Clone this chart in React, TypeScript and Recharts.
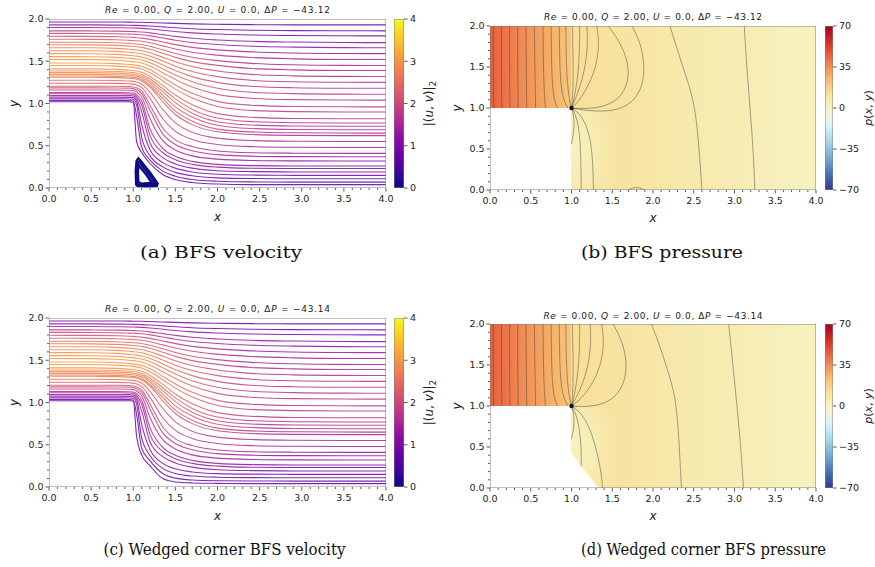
import React from 'react';
import { ComposedChart, Line, Area, Scatter, XAxis, YAxis } from 'recharts';

const stationX = [0, 0.5, 0.8, 0.95, 1.0, 1.04, 1.1, 1.2, 1.35, 1.5, 1.7, 2.0, 2.4, 2.9, 3.5, 4.0];

// streamline heights at stationX, bottom line first (plain BFS)
const streamBFS = [
  [1.02, 1.02, 1.02, 1.02, 1.015, 0.55, 0.42, 0.29, 0.16, 0.1, 0.065, 0.047, 0.04, 0.04, 0.04, 0.04],
  [1.035, 1.035, 1.035, 1.035, 1.03, 0.85, 0.48, 0.33, 0.2, 0.14, 0.1, 0.08, 0.072, 0.07, 0.07, 0.07],
  [1.055, 1.055, 1.055, 1.054, 1.05, 0.98, 0.6, 0.38, 0.25, 0.185, 0.145, 0.12, 0.112, 0.11, 0.11, 0.11],
  [1.075, 1.075, 1.075, 1.073, 1.07, 1.03, 0.75, 0.45, 0.3, 0.235, 0.19, 0.163, 0.153, 0.15, 0.15, 0.15],
  [1.095, 1.095, 1.095, 1.093, 1.09, 1.06, 0.9, 0.53, 0.36, 0.285, 0.235, 0.205, 0.194, 0.19, 0.19, 0.19],
  [1.115, 1.115, 1.115, 1.113, 1.11, 1.085, 0.98, 0.62, 0.42, 0.335, 0.28, 0.247, 0.234, 0.23, 0.23, 0.23],
  [1.13, 1.13, 1.13, 1.128, 1.125, 1.105, 1.03, 0.7, 0.47, 0.375, 0.315, 0.28, 0.265, 0.26, 0.26, 0.26],
  [1.16, 1.16, 1.16, 1.157, 1.153, 1.137, 1.08, 0.82, 0.56, 0.45, 0.38, 0.342, 0.326, 0.321, 0.32, 0.32],
  [1.185, 1.185, 1.184, 1.18, 1.176, 1.163, 1.12, 0.92, 0.64, 0.515, 0.44, 0.395, 0.377, 0.371, 0.37, 0.37],
  [1.205, 1.205, 1.204, 1.2, 1.196, 1.185, 1.15, 0.98, 0.71, 0.57, 0.49, 0.438, 0.418, 0.412, 0.41, 0.41],
  [1.24, 1.24, 1.238, 1.233, 1.229, 1.22, 1.19, 1.06, 0.82, 0.67, 0.575, 0.515, 0.49, 0.482, 0.48, 0.48],
  [1.275, 1.275, 1.272, 1.266, 1.262, 1.254, 1.23, 1.13, 0.93, 0.77, 0.66, 0.59, 0.562, 0.553, 0.55, 0.55],
  [1.31, 1.31, 1.306, 1.299, 1.295, 1.287, 1.266, 1.19, 1.02, 0.87, 0.75, 0.665, 0.633, 0.623, 0.62, 0.62],
  [1.325, 1.325, 1.321, 1.313, 1.309, 1.302, 1.282, 1.21, 1.06, 0.91, 0.79, 0.697, 0.664, 0.653, 0.65, 0.65],
  [1.345, 1.345, 1.34, 1.332, 1.328, 1.321, 1.302, 1.24, 1.1, 0.96, 0.84, 0.742, 0.704, 0.693, 0.69, 0.69],
  [1.365, 1.365, 1.36, 1.351, 1.347, 1.34, 1.323, 1.265, 1.14, 1.01, 0.885, 0.785, 0.745, 0.733, 0.73, 0.73],
  [1.385, 1.385, 1.379, 1.37, 1.366, 1.36, 1.344, 1.29, 1.175, 1.055, 0.93, 0.828, 0.786, 0.773, 0.77, 0.77],
  [1.41, 1.41, 1.404, 1.394, 1.39, 1.384, 1.369, 1.32, 1.215, 1.1, 0.985, 0.88, 0.837, 0.823, 0.82, 0.82],
  [1.45, 1.449, 1.442, 1.432, 1.428, 1.422, 1.408, 1.365, 1.27, 1.17, 1.065, 0.965, 0.918, 0.904, 0.9, 0.9],
  [1.48, 1.479, 1.472, 1.461, 1.457, 1.451, 1.438, 1.398, 1.31, 1.22, 1.12, 1.025, 0.98, 0.965, 0.961, 0.96],
  [1.52, 1.519, 1.511, 1.5, 1.496, 1.491, 1.479, 1.442, 1.365, 1.285, 1.195, 1.108, 1.062, 1.046, 1.041, 1.04],
  [1.555, 1.554, 1.546, 1.535, 1.531, 1.526, 1.515, 1.481, 1.41, 1.337, 1.257, 1.18, 1.133, 1.117, 1.111, 1.11],
  [1.59, 1.589, 1.581, 1.57, 1.566, 1.561, 1.551, 1.52, 1.456, 1.39, 1.318, 1.25, 1.204, 1.187, 1.181, 1.18],
  [1.625, 1.624, 1.617, 1.606, 1.602, 1.598, 1.588, 1.56, 1.502, 1.442, 1.378, 1.318, 1.275, 1.257, 1.251, 1.25],
  [1.66, 1.659, 1.652, 1.642, 1.638, 1.634, 1.625, 1.6, 1.548, 1.494, 1.437, 1.385, 1.345, 1.327, 1.321, 1.32],
  [1.695, 1.694, 1.688, 1.679, 1.675, 1.672, 1.664, 1.641, 1.594, 1.546, 1.496, 1.451, 1.415, 1.398, 1.391, 1.39],
  [1.725, 1.724, 1.719, 1.711, 1.708, 1.705, 1.698, 1.677, 1.635, 1.592, 1.547, 1.507, 1.475, 1.458, 1.451, 1.45],
  [1.76, 1.759, 1.755, 1.748, 1.745, 1.742, 1.736, 1.718, 1.682, 1.645, 1.606, 1.572, 1.544, 1.528, 1.521, 1.52],
  [1.795, 1.794, 1.79, 1.784, 1.782, 1.779, 1.774, 1.759, 1.728, 1.697, 1.664, 1.635, 1.611, 1.597, 1.591, 1.59],
  [1.83, 1.829, 1.826, 1.821, 1.819, 1.817, 1.813, 1.8, 1.775, 1.749, 1.722, 1.698, 1.678, 1.667, 1.661, 1.66],
  [1.86, 1.859, 1.857, 1.853, 1.851, 1.85, 1.846, 1.836, 1.815, 1.794, 1.772, 1.752, 1.736, 1.727, 1.721, 1.72],
  [1.9, 1.9, 1.897, 1.894, 1.893, 1.892, 1.889, 1.882, 1.867, 1.852, 1.836, 1.822, 1.811, 1.804, 1.801, 1.8],
  [1.93, 1.93, 1.928, 1.926, 1.925, 1.924, 1.922, 1.917, 1.907, 1.896, 1.885, 1.875, 1.867, 1.863, 1.861, 1.86],
  [1.965, 1.965, 1.964, 1.963, 1.962, 1.962, 1.961, 1.958, 1.953, 1.948, 1.942, 1.937, 1.933, 1.931, 1.93, 1.93],
];

// the four lowest streamlines of the wedged corner case (they follow the wedge)
const streamWedgeLow = [
  [1.02, 1.02, 1.02, 1.02, 1.015, 0.6, 0.38, 0.25, 0.1, 0.06, 0.048, 0.043, 0.04, 0.04, 0.04, 0.04],
  [1.035, 1.035, 1.035, 1.035, 1.03, 0.86, 0.46, 0.31, 0.16, 0.105, 0.083, 0.074, 0.071, 0.07, 0.07, 0.07],
  [1.055, 1.055, 1.055, 1.054, 1.05, 0.98, 0.58, 0.37, 0.22, 0.16, 0.13, 0.116, 0.111, 0.11, 0.11, 0.11],
  [1.075, 1.075, 1.075, 1.073, 1.07, 1.03, 0.74, 0.44, 0.28, 0.215, 0.178, 0.158, 0.152, 0.15, 0.15, 0.15],
];
const streamWedge = [...streamWedgeLow, ...streamBFS.slice(4)];

// recirculation eddy behind the step (closed loops)
const eddyLoops = [
  [[1.035, 0.04], [1.03, 0.2], [1.04, 0.32], [1.06, 0.35], [1.09, 0.32], [1.2, 0.18], [1.29, 0.05], [1.28, 0.025], [1.15, 0.02], [1.05, 0.025]],
  [[1.045, 0.05], [1.04, 0.2], [1.05, 0.3], [1.07, 0.31], [1.18, 0.17], [1.26, 0.05], [1.15, 0.035], [1.06, 0.04]],
  [[1.06, 0.07], [1.055, 0.2], [1.065, 0.27], [1.16, 0.15], [1.22, 0.06], [1.1, 0.05]],
];

// pressure contour lines
const contoursUpstream = [
  [[0.04, 2], [0.04, 1.5], [0.045, 1]],
  [[0.14, 2], [0.14, 1.5], [0.145, 1]],
  [[0.24, 2], [0.24, 1.5], [0.245, 1]],
  [[0.34, 2], [0.34, 1.5], [0.345, 1]],
  [[0.44, 2], [0.445, 1.5], [0.45, 1]],
  [[0.545, 2], [0.55, 1.5], [0.56, 1]],
  [[0.65, 2], [0.655, 1.5], [0.665, 1.2], [0.68, 1]],
  [[0.75, 2], [0.755, 1.5], [0.77, 1.2], [0.8, 1.06], [0.83, 1]],
  [[0.85, 2], [0.855, 1.5], [0.875, 1.22], [0.915, 1.07], [0.955, 1]],
  [[0.93, 2], [0.935, 1.55], [0.955, 1.22], [0.985, 1.05], [1, 1]],
  [[1.01, 2], [1.02, 1.6], [1.02, 1.3], [1.01, 1.1], [1, 1]],
  [[1.1, 2], [1.1, 1.7], [1.08, 1.4], [1.04, 1.15], [1, 1]],
];
const contoursBFS = [
  ...contoursUpstream,
  [[1.19, 2], [1.2, 1.75], [1.16, 1.45], [1.08, 1.18], [1, 1]],
  [[1.31, 2], [1.34, 1.8], [1.31, 1.52], [1.2, 1.25], [1.08, 1.07], [1, 1]],
  [[1.45, 2], [1.6, 1.8], [1.7, 1.55], [1.7, 1.3], [1.58, 1.1], [1.38, 1.01], [1.18, 0.99], [1, 1]],
  [[1.74, 2], [1.85, 1.8], [1.9, 1.5], [1.87, 1.25], [1.74, 1.05], [1.52, 0.96], [1.24, 0.96], [1, 1]],
  [[2.21, 2], [2.27, 1.8], [2.4, 1.4], [2.5, 1.1], [2.55, 0.7], [2.58, 0.3], [2.6, 0]],
  [[3.12, 2], [3.15, 1.5], [3.19, 1], [3.23, 0.5], [3.25, 0]],
  [[1, 1], [1.03, 0.9], [1.035, 0.75], [1.0, 0.56]],
  [[1, 1], [1.06, 0.9], [1.1, 0.7], [1.115, 0.4], [1.12, 0]],
  [[1, 1], [1.12, 0.92], [1.22, 0.7], [1.26, 0.4], [1.27, 0]],
  [[1.7, 0], [1.74, 0.025], [1.8, 0.032], [1.86, 0.02], [1.9, 0]],
];
const contoursWedge = [
  ...contoursUpstream,
  [[1.23, 2], [1.24, 1.75], [1.2, 1.45], [1.1, 1.18], [1, 1]],
  [[1.37, 2], [1.4, 1.8], [1.37, 1.52], [1.25, 1.25], [1.1, 1.07], [1, 1]],
  [[1.51, 2], [1.62, 1.8], [1.68, 1.55], [1.66, 1.3], [1.54, 1.1], [1.35, 1.01], [1.16, 0.99], [1, 1]],
  [[1.98, 2], [2.06, 1.8], [2.16, 1.5], [2.27, 1.15], [2.31, 0.75], [2.33, 0.35], [2.35, 0]],
  [[2.93, 2], [2.97, 1.6], [3.02, 1.1], [3.07, 0.6], [3.11, 0]],
  [[1, 1], [1.03, 0.9], [1.035, 0.76], [1.0, 0.6]],
  [[1, 1], [1.06, 0.9], [1.1, 0.7], [1.12, 0.5], [1.12, 0.27]],
  [[1, 1], [1.12, 0.92], [1.24, 0.7], [1.32, 0.42], [1.37, 0.15], [1.38, 0]],
];

// pressure read along the channel (colour of the field)
const pressureInletX = [0, 0.25, 0.5, 0.75, 0.9, 1.0];
const pressureInlet = [45, 39, 33, 27, 23, 20];
const pressureOutletX = [1.0, 1.15, 1.4, 1.8, 2.3, 2.8, 3.3, 3.8, 4.0];
const pressureOutlet = [13, 12, 11, 9, 7, 5.2, 3.5, 1.8, 1.0];
const cornerPressure = 1.0;

// flow regions
const inletRegion = [{ x: 0, r: [1, 2] }, { x: 1, r: [1, 2] }];
const outletRegionBFS = [{ x: 1, r: [0, 2] }, { x: 4, r: [0, 2] }];
const outletRegionWedge = [{ x: 1, r: [0.42, 2] }, { x: 1.33, r: [0, 2] }, { x: 4, r: [0, 2] }];
const cornerRegionBFS = [{ x: 1, r: [0, 0.98] }, { x: 1.6, r: [0, 0.98] }];
const cornerRegionWedge = [{ x: 1, r: [0.42, 0.98] }, { x: 1.33, r: [0, 0.98] }, { x: 1.6, r: [0, 0.98] }];
const cornerPoint = [{ x: 1, y: 1 }];

const xMajor = [0, 0.5, 1, 1.5, 2, 2.5, 3, 3.5, 4];
const yMajor = [0, 0.5, 1, 1.5, 2];
const speedTicks = [0, 1, 2, 3, 4];
const pressureTicks = [-70, -35, 0, 35, 70];

const xTicks: number[] = [];
for (let i = 0; i <= 40; i++) xTicks.push(i / 10);
const yTicks: number[] = [];
for (let i = 0; i <= 20; i++) yTicks.push(i / 10);

const plasma = ['#0d0887', '#41049d', '#6a00a8', '#8f0da4', '#b12a90', '#cc4778', '#e16462', '#f2844b', '#fca636', '#fcce25', '#f0f921'];
const rdylbu = ['#313695', '#4575b4', '#74add1', '#abd9e9', '#e0f3f8', '#f6f4c2', '#f8dd94', '#f5ad64', '#ec6d45', '#d3302a', '#a50026'];

function mixStops(stops: string[], t: number) {
  const c = Math.max(0, Math.min(1, t)) * (stops.length - 1);
  const i = Math.min(stops.length - 2, Math.floor(c));
  const f = c - i;
  const a = stops[i], b = stops[i + 1];
  const ch = (s: string, k: number) => parseInt(s.slice(1 + 2 * k, 3 + 2 * k), 16);
  const out = [0, 1, 2].map((k) => Math.round(ch(a, k) + (ch(b, k) - ch(a, k)) * f).toString(16).padStart(2, '0'));
  return '#' + out.join('');
}
const pressColor = (p: number) => mixStops(rdylbu, (p + 70) / 140);
// streamline colour: position across the channel (0 wall .. 1 centre) to a plasma shade
const inletShade = (w: number) => mixStops(plasma, 0.13 + 0.62 * w);
const outletShade = (w: number) => mixStops(plasma, 0.13 + 0.3 * w);

const AXIS = '#808080';
const FONT = 'DejaVu Sans';

const XTick = (props: any) => {
  const { x, y, payload } = props;
  const v = payload.value;
  const major = xMajor.some((m) => Math.abs(m - v) < 1e-6);
  return (
    <g>
      <line x1={x} x2={x} y1={y} y2={y + (major ? 3.5 : 2)} stroke="#333" strokeWidth={0.8} />
      {major && (
        <text x={x} y={y + 14} textAnchor="middle" fontSize={9.5} fontFamily={FONT} fill="#222">
          {v.toFixed(1)}
        </text>
      )}
    </g>
  );
};

const YTick = (props: any) => {
  const { x, y, payload } = props;
  const v = payload.value;
  const major = yMajor.some((m) => Math.abs(m - v) < 1e-6);
  return (
    <g>
      <line x1={x - (major ? 3.5 : 2)} x2={x} y1={y} y2={y} stroke="#333" strokeWidth={0.8} />
      {major && (
        <text x={x - 5.5} y={y + 3.4} textAnchor="end" fontSize={9.5} fontFamily={FONT} fill="#222">
          {v.toFixed(1)}
        </text>
      )}
    </g>
  );
};

const BarTick = (props: any) => {
  const { x, y, payload } = props;
  const v = payload.value;
  const label = v < 0 ? '\u2212' + Math.abs(v) : String(v);
  return (
    <g>
      <line x1={x} x2={x + 3.5} y1={y} y2={y} stroke="#333" strokeWidth={0.8} />
      <text x={x + 6} y={y + 3.4} textAnchor="start" fontSize={9.5} fontFamily={FONT} fill="#222">
        {label}
      </text>
    </g>
  );
};

// plot-box outline drawn on top of everything
const frameLine = (x0: number, x1: number, y0: number, y1: number) => (
  <Line
    data={[{ x: x0, y: y0 }, { x: x1, y: y0 }, { x: x1, y: y1 }, { x: x0, y: y1 }, { x: x0, y: y0 }]}
    dataKey="y"
    type="linear"
    stroke={AXIS}
    strokeWidth={1}
    dot={false}
    activeDot={false}
    isAnimationActive={false}
  />
);

const PL = 49;

function mainAxes() {
  return [
    <XAxis
      key="xb"
      type="number"
      dataKey="x"
      domain={[0, 4]}
      allowDataOverflow
      ticks={xTicks}
      interval={0}
      tick={(p: any) => <XTick {...p} />}
      tickLine={false}
      tickSize={0}
      tickMargin={0}
      axisLine={false}
      height={30}
    />,
    <YAxis
      key="yl"
      type="number"
      dataKey="y"
      domain={[0, 2]}
      allowDataOverflow
      ticks={yTicks}
      interval={0}
      tick={(p: any) => <YTick {...p} />}
      tickLine={false}
      tickSize={0}
      tickMargin={0}
      axisLine={false}
      width={PL}
    />,
  ];
}

function VelocityPanel({ id, lines, loops }: { id: string; lines: number[][]; loops: number[][][] }) {
  const PW = 337;
  return (
    <ComposedChart width={PL + PW + 14} height={218} margin={{ top: 19, right: 14, bottom: 0, left: 0 }}>
      <defs>
        {lines.map((row, i) => {
          const sIn = row[0] - 1;
          const sOut = row[row.length - 1] / 2;
          const cin = inletShade(4 * sIn * (1 - sIn));
          const cout = outletShade(4 * sOut * (1 - sOut));
          return (
            <linearGradient key={i} id={`${id}-s${i}`} gradientUnits="userSpaceOnUse" x1={PL} y1={0} x2={PL + PW} y2={0}>
              <stop offset={0} stopColor={cin} />
              <stop offset={0.24} stopColor={cin} />
              <stop offset={0.64} stopColor={cout} />
              <stop offset={1} stopColor={cout} />
            </linearGradient>
          );
        })}
      </defs>
      {mainAxes()}
      {lines.map((row, i) => (
        <Line
          key={`l${i}`}
          data={stationX.map((x, j) => ({ x, y: row[j] }))}
          dataKey="y"
          type="monotone"
          stroke={`url(#${id}-s${i})`}
          strokeWidth={1.1}
          strokeOpacity={0.85}
          dot={false}
          activeDot={false}
          isAnimationActive={false}
        />
      ))}
      {loops.map((loop, i) => (
        <Line
          key={`e${i}`}
          data={loop.map(([x, y]) => ({ x, y }))}
          dataKey="y"
          type="linearClosed"
          stroke="#0d0887"
          strokeWidth={2.4}
          dot={false}
          activeDot={false}
          isAnimationActive={false}
        />
      ))}
      {frameLine(0, 4, 0, 2)}
    </ComposedChart>
  );
}

function PressurePanel({ id, outlet, corner, contours }: { id: string; outlet: any[]; corner: any[]; contours: number[][][] }) {
  const PW = 326;
  return (
    <ComposedChart width={PL + PW + 14} height={220} margin={{ top: 26, right: 14, bottom: 0, left: 0 }}>
      <defs>
        <linearGradient id={`${id}-pin`} gradientUnits="userSpaceOnUse" x1={PL} y1={0} x2={PL + PW} y2={0}>
          {pressureInletX.map((x, i) => (
            <stop key={i} offset={x / 4} stopColor={pressColor(pressureInlet[i])} />
          ))}
        </linearGradient>
        <linearGradient id={`${id}-pout`} gradientUnits="userSpaceOnUse" x1={PL} y1={0} x2={PL + PW} y2={0}>
          {pressureOutletX.map((x, i) => (
            <stop key={i} offset={x / 4} stopColor={pressColor(pressureOutlet[i])} />
          ))}
        </linearGradient>
        <radialGradient id={`${id}-pale`} cx="0" cy="0.5" r="1">
          <stop offset={0} stopColor={pressColor(cornerPressure)} stopOpacity={1} />
          <stop offset={0.4} stopColor={pressColor(cornerPressure)} stopOpacity={0.7} />
          <stop offset={1} stopColor={pressColor(cornerPressure)} stopOpacity={0} />
        </radialGradient>
      </defs>
      {mainAxes()}
      <Area data={inletRegion} dataKey="r" type="linear" stroke="none" fill={`url(#${id}-pin)`} fillOpacity={1} dot={false} activeDot={false} isAnimationActive={false} />
      <Area data={outlet} dataKey="r" type="linear" stroke="none" fill={`url(#${id}-pout)`} fillOpacity={1} dot={false} activeDot={false} isAnimationActive={false} />
      <Area data={corner} dataKey="r" type="linear" stroke="none" fill={`url(#${id}-pale)`} fillOpacity={1} dot={false} activeDot={false} isAnimationActive={false} />
      {contours.map((c, i) => (
        <Line
          key={`c${i}`}
          data={c.map(([x, y]) => ({ x, y }))}
          dataKey="y"
          type="basis"
          stroke="#3a3a3a"
          strokeOpacity={0.7}
          strokeWidth={0.65}
          dot={false}
          activeDot={false}
          isAnimationActive={false}
        />
      ))}
      <Scatter data={cornerPoint} isAnimationActive={false} shape={(p: any) => <circle cx={p.cx} cy={p.cy} r={2.2} fill="#111" />} />
      {frameLine(0, 4, 0, 2)}
    </ComposedChart>
  );
}

function ColorBar({ id, stops, domain, ticks, barW, plotH }: { id: string; stops: string[]; domain: number[]; ticks: number[]; barW: number; plotH: number }) {
  const band = [{ x: 0, r: domain }, { x: 1, r: domain }];
  return (
    <ComposedChart width={barW + 34} height={plotH + 12} margin={{ top: 6, right: 0, bottom: 6, left: 0 }}>
      <defs>
        <linearGradient id={`${id}-bar`} x1="0" y1="1" x2="0" y2="0">
          {stops.map((c, i) => (
            <stop key={i} offset={i / (stops.length - 1)} stopColor={c} />
          ))}
        </linearGradient>
      </defs>
      <XAxis type="number" dataKey="x" domain={[0, 1]} allowDataOverflow hide />
      <YAxis
        orientation="right"
        type="number"
        dataKey="y"
        domain={domain}
        allowDataOverflow
        ticks={ticks}
        interval={0}
        tick={(p: any) => <BarTick {...p} />}
        tickLine={false}
        tickSize={0}
        tickMargin={0}
        axisLine={false}
        width={34}
      />
      <Area data={band} dataKey="r" type="linear" stroke="none" fill={`url(#${id}-bar)`} fillOpacity={1} dot={false} activeDot={false} isAnimationActive={false} />
      {frameLine(0, 1, domain[0], domain[1])}
    </ComposedChart>
  );
}

const it = (s: string) => <tspan fontStyle="italic">{s}</tspan>;

function Title({ x, y, len, dp }: { x: number; y: number; len: number; dp: string }) {
  return (
    <text x={x} y={y} textAnchor="middle" fontSize={9} fontFamily={FONT} fill="#222" textLength={len} lengthAdjust="spacing">
      {it('Re')}
      {' = 0.00, '}
      {it('Q')}
      {' = 2.00, '}
      {it('U')}
      {' = 0.0, '}
      {'\u0394'}
      {it('P')}
      {' = \u2212' + dp}
    </text>
  );
}

function AxisLabel({ x, y, text, rotate }: { x: number; y: number; text: string; rotate?: boolean }) {
  return (
    <text
      x={x}
      y={y}
      textAnchor="middle"
      fontSize={12}
      fontStyle="italic"
      fontFamily={FONT}
      fill="#222"
      transform={rotate ? `rotate(-90 ${x} ${y})` : undefined}
    >
      {text}
    </text>
  );
}

function SpeedLabel({ x, y }: { x: number; y: number }) {
  return (
    <text x={x} y={y} textAnchor="middle" fontSize={12} fontFamily={FONT} fill="#222" transform={`rotate(-90 ${x} ${y})`}>
      {'|('}
      {it('u')}
      {', '}
      {it('v')}
      {')|'}
      <tspan fontSize={9} dy={3}>2</tspan>
    </text>
  );
}

function PressureLabel({ x, y }: { x: number; y: number }) {
  return (
    <text x={x} y={y} textAnchor="middle" fontSize={11} fontFamily={FONT} fill="#222" transform={`rotate(-90 ${x} ${y})`}>
      {it('p')}
      {'('}
      {it('x')}
      {', '}
      {it('y')}
      {')'}
    </text>
  );
}

function Caption({ x, y, text, len, anchor }: { x: number; y: number; text: string; len: number; anchor: 'start' | 'middle' }) {
  return (
    <text x={x} y={y} textAnchor={anchor} fontSize={17} fontFamily="DejaVu Serif" fill="#111" textLength={len} lengthAdjust="spacingAndGlyphs">
      {text}
    </text>
  );
}

const abs = (left: number, top: number): React.CSSProperties => ({ position: 'absolute', left, top });

export default function App() {
  return (
    <div style={{ position: 'fixed', left: 0, top: 0, width: 875, height: 567, overflow: 'hidden', background: '#fff' }}>
      <div style={abs(0, 0)}>
        <VelocityPanel id="va" lines={streamBFS} loops={eddyLoops} />
      </div>
      <div style={abs(394, 13)}>
        <ColorBar id="cba" stops={plasma} domain={[0, 4]} ticks={speedTicks} barW={10} plotH={169} />
      </div>
      <div style={abs(441, 0)}>
        <PressurePanel id="pb" outlet={outletRegionBFS} corner={cornerRegionBFS} contours={contoursBFS} />
      </div>
      <div style={abs(825, 20)}>
        <ColorBar id="cbb" stops={rdylbu} domain={[-70, 70]} ticks={pressureTicks} barW={8} plotH={164} />
      </div>
      <div style={abs(0, 299)}>
        <VelocityPanel id="vc" lines={streamWedge} loops={[]} />
      </div>
      <div style={abs(394, 312)}>
        <ColorBar id="cbc" stops={plasma} domain={[0, 4]} ticks={speedTicks} barW={10} plotH={169} />
      </div>
      <div style={abs(441, 298)}>
        <PressurePanel id="pd" outlet={outletRegionWedge} corner={cornerRegionWedge} contours={contoursWedge} />
      </div>
      <div style={abs(825, 318)}>
        <ColorBar id="cbd" stops={rdylbu} domain={[-70, 70]} ticks={pressureTicks} barW={8} plotH={164} />
      </div>
      <svg width={875} height={567} style={{ position: 'absolute', left: 0, top: 0, pointerEvents: 'none' }}>
        <Title x={217.5} y={12.5} len={225} dp="43.12" />
        <Title x={653} y={20} len={218} dp="43.12" />
        <Title x={217.5} y={311.5} len={225} dp="43.14" />
        <Title x={653} y={319} len={219} dp="43.14" />
        <AxisLabel x={217.5} y={221} text="x" />
        <AxisLabel x={18} y={103.5} text="y" rotate />
        <AxisLabel x={653} y={222} text="x" />
        <AxisLabel x={461} y={108} text="y" rotate />
        <AxisLabel x={217.5} y={520} text="x" />
        <AxisLabel x={18} y={402.5} text="y" rotate />
        <AxisLabel x={653} y={520} text="x" />
        <AxisLabel x={461} y={406} text="y" rotate />
        <SpeedLabel x={433} y={103.5} />
        <SpeedLabel x={433} y={402.5} />
        <PressureLabel x={871.5} y={108} />
        <PressureLabel x={871.5} y={406} />
        <Caption x={221} y={258} text="(a) BFS velocity" len={162} anchor="middle" />
        <Caption x={581} y={258} text="(b) BFS pressure" len={162} anchor="start" />
        <Caption x={224.5} y={555} text="(c) Wedged corner BFS velocity" len={242} anchor="middle" />
        <Caption x={581} y={555} text="(d) Wedged corner BFS pressure" len={245} anchor="start" />
      </svg>
    </div>
  );
}
